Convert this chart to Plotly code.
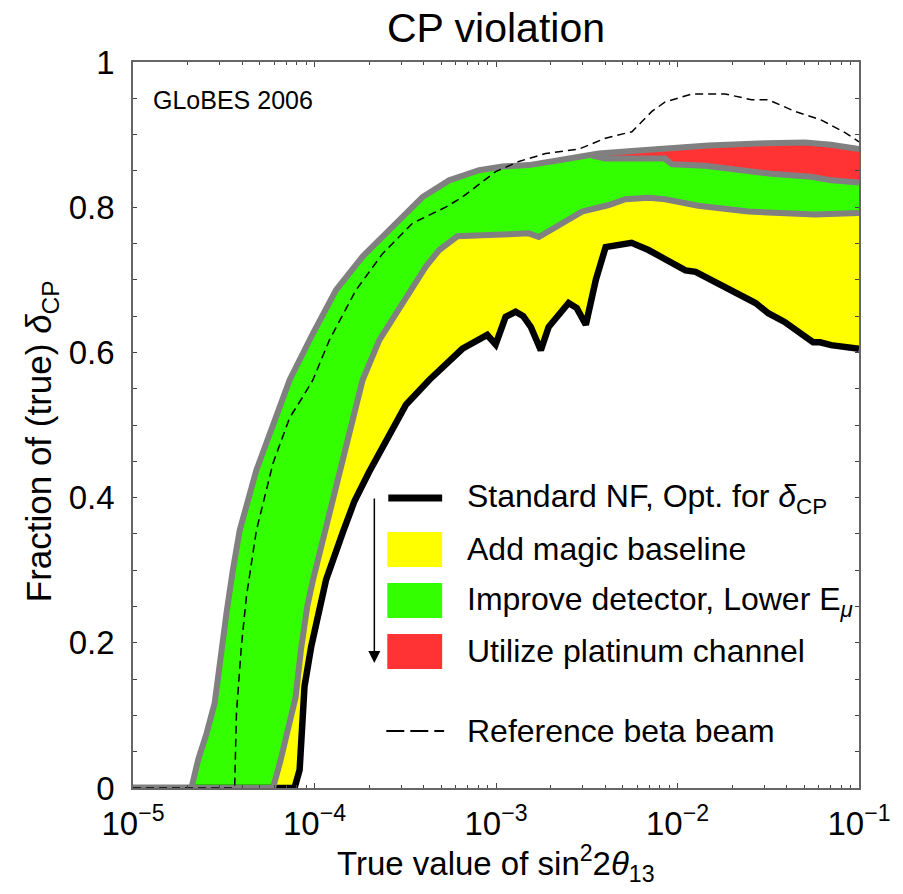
import plotly.graph_objects as go

# ---------------- data (x given as log10 of sin^2 2theta13) ----------------
outer_lx = [-5, -4.678, -4.64, -4.595, -4.55, -4.52, -4.485, -4.45, -4.412, -4.32, -4.21, -4.137,
            -4.009, -3.881, -3.735, -3.588, -3.405, -3.258, -3.093, -2.965, -2.819, -2.67, -2.47,
            -2.434, -2.214, -2.033, -1.83, -1.516, -1.297, -1.154, -1.0]
outer_y = [0, 0, 0.04, 0.075, 0.117, 0.18, 0.241, 0.30, 0.355, 0.438, 0.516, 0.562,
           0.626, 0.686, 0.732, 0.769, 0.814, 0.837, 0.851, 0.856, 0.858, 0.864, 0.871,
           0.874, 0.878, 0.882, 0.885, 0.888, 0.889, 0.886, 0.880]

green_top_lx = [-2.47, -2.40, -2.07, -2.03, -1.848, -1.70, -1.482, -1.262, -1.152, -1.0]
green_top_y = [0.871, 0.867, 0.867, 0.859, 0.857, 0.852, 0.846, 0.842, 0.837, 0.834]

yellow_top_lx = [-5, -4.229, -4.19, -4.148, -4.104, -4.075, -4.04, -4.009, -3.918, -3.826, -3.735,
                 -3.643, -3.515, -3.387, -3.313, -3.213, -3.002, -2.819, -2.764, -2.617, -2.526,
                 -2.379, -2.287, -2.159, -2.068, -1.885, -1.701, -1.61, -1.243, -1.06, -1.0]
yellow_top_y = [0, 0, 0.035, 0.076, 0.125, 0.19, 0.25, 0.286, 0.378, 0.470, 0.562,
                0.617, 0.668, 0.718, 0.741, 0.760, 0.762, 0.764, 0.759, 0.780, 0.794,
                0.803, 0.811, 0.813, 0.811, 0.802, 0.797, 0.794, 0.790, 0.792, 0.792]

std_nf_lx = [-5, -4.11, -4.082, -4.055, -4.018, -3.936, -3.844, -3.78, -3.70, -3.606, -3.496, -3.368,
             -3.295, -3.185, -3.048, -3.002, -2.947, -2.892, -2.85, -2.808, -2.753, -2.71, -2.60,
             -2.555, -2.505, -2.45, -2.396, -2.253, -2.16, -2.05, -1.956, -1.90, -1.79, -1.70,
             -1.57, -1.50, -1.41, -1.31, -1.253, -1.214, -1.154, -1.0]
std_nf_y = [0, 0, 0.025, 0.14, 0.195, 0.287, 0.352, 0.395, 0.435, 0.478, 0.528, 0.562,
            0.578, 0.605, 0.624, 0.611, 0.649, 0.656, 0.65, 0.635, 0.603, 0.635, 0.668,
            0.661, 0.638, 0.70, 0.745, 0.751, 0.741, 0.727, 0.713, 0.711, 0.696, 0.686,
            0.668, 0.654, 0.642, 0.624, 0.614, 0.614, 0.61, 0.605]

beta_lx = [-5, -4.44, -4.43, -4.403, -4.375, -4.32, -4.229, -4.137, -4.064, -4.009, -3.918, -3.771,
           -3.625, -3.46, -3.277, -3.185, -3.002, -2.874, -2.727, -2.544, -2.397, -2.251, -2.141,
           -2.068, -1.921, -1.738, -1.592, -1.50, -1.353, -1.207, -1.079, -1.0]
beta_y = [0, 0, 0.103, 0.195, 0.264, 0.355, 0.447, 0.51, 0.539, 0.562, 0.617, 0.686,
          0.736, 0.778, 0.80, 0.814, 0.849, 0.863, 0.874, 0.880, 0.895, 0.904, 0.932,
          0.945, 0.956, 0.956, 0.948, 0.948, 0.932, 0.920, 0.903, 0.890]

x_tick_exps = [-5, -4, -3, -2, -1]
y_tick_vals = [0, 0.2, 0.4, 0.6, 0.8, 1.0]
y_tick_text = ["0", "0.2", "0.4", "0.6", "0.8", "1"]

x_title = "True value of sin<sup>2</sup>2<i>θ</i><sub>13</sub>"
y_title = "Fraction of (true) <i>δ</i><sub>CP</sub>"

legend_labels = ["Standard NF, Opt. for <i>δ</i><sub>CP</sub>",
                 "Add magic baseline",
                 "Improve detector, Lower E<sub><i>μ</i></sub>",
                 "Utilize platinum channel",
                 "Reference beta beam"]

YELLOW = "#FFFF00"
GREEN = "#33FF00"
RED = "#FF3333"
GRAY = "#808080"
FONT = "Liberation Sans, Arial, Helvetica, sans-serif"


def X(lx):
    return [10 ** v for v in lx]


# green upper boundary = outer curve left of the split, then the green_top segment
split = green_top_lx[0]
green_up_lx = [v for v in outer_lx if v < split] + green_top_lx
green_up_y = [outer_y[i] for i, v in enumerate(outer_lx) if v < split] + green_top_y
red_out_idx = [i for i, v in enumerate(outer_lx) if v >= split]
red_up_lx = [outer_lx[i] for i in red_out_idx]
red_up_y = [outer_y[i] for i in red_out_idx]

fig = go.Figure()

# fills
fig.add_trace(go.Scatter(x=X(yellow_top_lx + std_nf_lx[::-1]), y=yellow_top_y + std_nf_y[::-1],
                         fill="toself", fillcolor=YELLOW, mode="none", hoverinfo="skip"))
fig.add_trace(go.Scatter(x=X(green_up_lx + yellow_top_lx[::-1]), y=green_up_y + yellow_top_y[::-1],
                         fill="toself", fillcolor=GREEN, mode="none", hoverinfo="skip"))
fig.add_trace(go.Scatter(x=X(red_up_lx + green_top_lx[::-1]), y=red_up_y + green_top_y[::-1],
                         fill="toself", fillcolor=RED, mode="none", hoverinfo="skip"))

# lines
fig.add_trace(go.Scatter(x=X(std_nf_lx), y=std_nf_y, mode="lines",
                         line=dict(color="black", width=6.5)))
fig.add_trace(go.Scatter(x=X(yellow_top_lx), y=yellow_top_y, mode="lines",
                         line=dict(color=GRAY, width=6)))
fig.add_trace(go.Scatter(x=X(green_top_lx), y=green_top_y, mode="lines",
                         line=dict(color=GRAY, width=6)))
fig.add_trace(go.Scatter(x=X(outer_lx), y=outer_y, mode="lines",
                         line=dict(color=GRAY, width=6)))
fig.add_trace(go.Scatter(x=X(beta_lx), y=beta_y, mode="lines",
                         line=dict(color="black", width=1.5, dash="8px,5px")))

# ---------------- layout ----------------
L, R, T, B = 133, 42, 62, 106
W, H = 903, 894
PW, PH = W - L - R, H - T - B


def px(x):
    return (x - L) / PW


def py(y):
    return (H - B - y) / PH


minor_x = [m * 10 ** e for e in range(-5, -1) for m in range(2, 10)]

fig.update_layout(
    width=W, height=H,
    margin=dict(l=L, r=R, t=T, b=B),
    paper_bgcolor="white", plot_bgcolor="white",
    showlegend=False,
    font=dict(family=FONT, color="black"),
    title=dict(text="CP violation", x=0.5, xref="paper", xanchor="center",
               y=1 - 28 / H, yref="container", yanchor="middle",
               font=dict(size=41, family=FONT, color="black")),
    xaxis=dict(type="log", range=[-5, -1],
               tickvals=[10 ** e for e in x_tick_exps],
               ticktext=["10<sup>\u2212%d</sup>" % (-e) for e in x_tick_exps],
               ticks="inside", ticklen=5, tickwidth=1, tickcolor="#444",
               showline=True, linecolor="#666", linewidth=1.5, mirror="ticks",
               showgrid=False, zeroline=False,
               tickfont=dict(size=33, family=FONT, color="black"),
               ticklabelstandoff=6,
               minor=dict(tickvals=minor_x, ticks="inside", ticklen=3, tickcolor="#444",
                          showgrid=False)),
    yaxis=dict(range=[0, 1],
               tickvals=y_tick_vals, ticktext=y_tick_text,
               ticks="inside", ticklen=4, tickwidth=1, tickcolor="#444",
               showline=True, linecolor="#666", linewidth=1.5, mirror="ticks",
               showgrid=False, zeroline=False,
               tickfont=dict(size=33, family=FONT, color="black"),
               ticklabelstandoff=10,
               minor=dict(dtick=0.05, ticks="inside", ticklen=4, tickcolor="#444",
                          showgrid=False)),
)

# axis titles
fig.add_annotation(text=x_title, xref="paper", yref="paper", x=0.5, y=py(863),
                   xanchor="center", yanchor="middle", showarrow=False,
                   font=dict(size=33, family=FONT, color="black"))
fig.add_annotation(text=y_title, xref="paper", yref="paper", x=px(41), y=py(441),
                   xanchor="center", yanchor="middle", showarrow=False, textangle=-90,
                   font=dict(size=35, family=FONT, color="black"))

# in-plot label
fig.add_annotation(text="GLoBES 2006", xref="paper", yref="paper", x=px(151), y=py(100),
                   xanchor="left", yanchor="middle", showarrow=False,
                   font=dict(size=25, family=FONT, color="black"))

# ---------------- custom legend ----------------
fig.add_shape(type="line", xref="paper", yref="paper", x0=px(389), x1=px(443), y0=py(498), y1=py(498),
              line=dict(color="black", width=7))
for (y0, y1), col in zip([(532, 567), (583, 618), (634, 669)], [YELLOW, GREEN, RED]):
    fig.add_shape(type="rect", xref="paper", yref="paper", x0=px(388), x1=px(443),
                  y0=py(y1), y1=py(y0), fillcolor=col, line=dict(width=0))
fig.add_shape(type="line", xref="paper", yref="paper", x0=px(387), x1=px(445), y0=py(731), y1=py(731),
              line=dict(color="black", width=2, dash="18px,6px"))
fig.add_annotation(text="", xref="paper", yref="paper", x=px(375), y=py(663),
                   ax=0, ay=-(663 - 497), showarrow=True, arrowhead=2, arrowsize=1.6,
                   arrowwidth=1.5, arrowcolor="black")
for lab, yc in zip(legend_labels, [498, 549, 601, 651, 731]):
    fig.add_annotation(text=lab, xref="paper", yref="paper", x=px(466), y=py(yc),
                       xanchor="left", yanchor="middle", showarrow=False,
                       font=dict(size=32, family=FONT, color="black"))

fig.write_html("out.html")
